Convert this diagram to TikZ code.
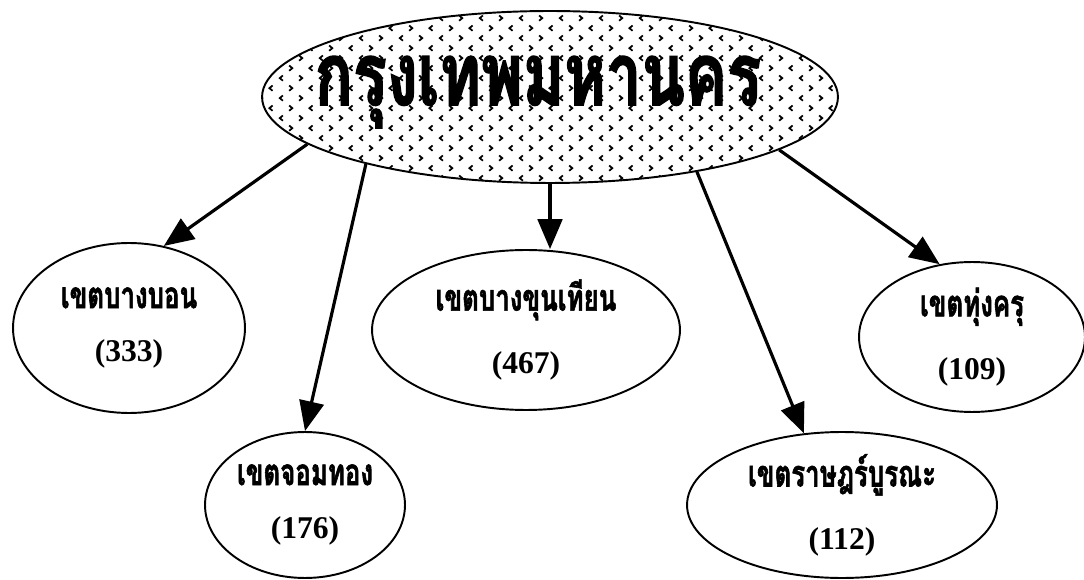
\documentclass[tikz,border=0pt]{standalone}
\usepackage{fontspec}
\setmainfont{Liberation Serif}
\newfontfamily\thaifont[Script=Thai,FakeStretch=0.7,FakeBold=1.5]{Loma}
\newfontfamily\thaibig[Script=Thai,FakeStretch=0.72,FakeBold=1.5]{Loma}
\usepackage{tikz}
\usetikzlibrary{shapes,arrows.meta,positioning,patterns,calc}
\tikzset{>=latex}

% district name over its number
\newcommand{\distlabel}[2]{{\thaifont\fontsize{21}{21}\selectfont\bfseries #1}\\[17pt]%
  {\fontsize{18}{18}\selectfont\bfseries (#2)}}

% small < and > marks for the big ellipse
\pgfdeclarepatternformonly{chevrons}{\pgfpointorigin}{\pgfpoint{22.6pt}{11.3pt}}{\pgfpoint{22.6pt}{11.3pt}}{
  \pgfsetlinewidth{1pt}
  % row one: < then >
  \pgfpathmoveto{\pgfpoint{2.8pt}{4.3pt}}\pgfpathlineto{\pgfpoint{1pt}{2.8pt}}\pgfpathlineto{\pgfpoint{2.8pt}{1.3pt}}
  \pgfpathmoveto{\pgfpoint{12.1pt}{4.3pt}}\pgfpathlineto{\pgfpoint{13.9pt}{2.8pt}}\pgfpathlineto{\pgfpoint{12.1pt}{1.3pt}}
  % row two: > then <
  \pgfpathmoveto{\pgfpoint{6.4pt}{10pt}}\pgfpathlineto{\pgfpoint{8.2pt}{8.5pt}}\pgfpathlineto{\pgfpoint{6.4pt}{7pt}}
  \pgfpathmoveto{\pgfpoint{19.8pt}{10pt}}\pgfpathlineto{\pgfpoint{18pt}{8.5pt}}\pgfpathlineto{\pgfpoint{19.8pt}{7pt}}
  \pgfusepath{stroke}
}

\begin{document}
\begin{tikzpicture}[x=0.02cm,y=-0.02cm,
    district/.style={draw,ellipse,line width=1.1pt,inner sep=0pt,align=center},
    link/.style={->,line width=1.8pt,>={Triangle[length=17pt,width=14pt]}}]
  \useasboundingbox (0,0) rectangle (1084,580);

  \node[draw,ellipse,line width=1.1pt,pattern=chevrons,minimum width=11.52cm,
    minimum height=3.44cm,inner sep=0pt] (bkk) at (550,97) {};
  \node[font=\thaibig\fontsize{50}{50}\selectfont\bfseries] (bkktext) at (538,92) {กรุงเทพมหานคร};

  \node[district,minimum width=4.64cm,minimum height=3.4cm] (bangbon) at (129,328)
    {\distlabel{เขตบางบอน}{333}};
  \node[district,minimum width=4cm,minimum height=2.92cm] (jomthong) at (305,505)
    {\distlabel{เขตจอมทอง}{176}};
  \node[district,minimum width=6.16cm,minimum height=3.2cm] (bangkhun) at (526,330)
    {\distlabel{เขตบางขุนเทียน}{467}};
  \node[district,minimum width=6.2cm,minimum height=2.92cm] (ratburana) at (842,505)
    {\distlabel{เขตราษฎร์บูรณะ}{112}};
  \node[district,minimum width=4.52cm,minimum height=3cm] (thungkhru) at (972,337)
    {\distlabel{เขตทุ่งครุ}{109}};

  \draw[link] (bkk.191) -- (bangbon.67);
  \draw[link] (bkk.200) -- (jomthong.north);
  \draw[link] (bkk.south) -- (bkk.south |- bangkhun.north);
  \draw[link] (bkk.333) -- (ratburana.118);
  \draw[link] (bkk.347) -- (thungkhru.114);
\end{tikzpicture}
\end{document}
